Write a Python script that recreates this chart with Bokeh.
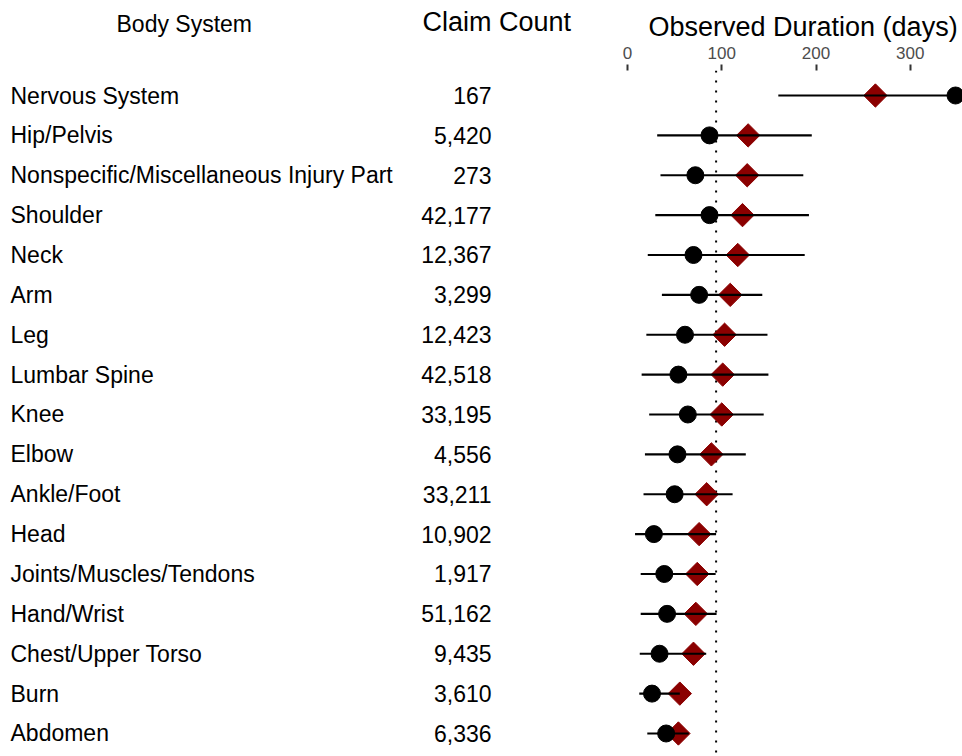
import math
from bokeh.plotting import figure
from bokeh.layouts import row
from bokeh.models import Range1d, FixedTicker, Span, Title, ColumnDataSource
from bokeh.core.properties import value
from bokeh.embed import file_html
from bokeh.resources import INLINE

# ---- data ----
body_systems = ["Nervous System", "Hip/Pelvis", "Nonspecific/Miscellaneous Injury Part",
                "Shoulder", "Neck", "Arm", "Leg", "Lumbar Spine", "Knee", "Elbow",
                "Ankle/Foot", "Head", "Joints/Muscles/Tendons", "Hand/Wrist",
                "Chest/Upper Torso", "Burn", "Abdomen"]
claim_counts = [167, 5420, 273, 42177, 12367, 3299, 12423, 42518, 33195, 4556,
                33211, 10902, 1917, 51162, 9435, 3610, 6336]
median_days = [348, 87, 72, 87, 70, 76, 61, 54, 64, 53, 50, 28, 39, 42, 34, 26, 41]
mean_days = [263, 128, 127, 122, 117, 109, 103, 101, 100, 89, 84, 76, 74, 72.5, 70, 55.5, 54]
low_days = [160, 31.5, 35, 29.5, 21.5, 36.5, 20, 15, 23, 18.5, 17, 8, 14, 14, 13, 12.5, 21]
high_days = [420, 195.5, 186.5, 192.5, 188, 143, 148.5, 149.5, 144.5, 125.5, 111.5, 94,
             93.5, 94.5, 83.5, 55.5, 65]
reference_days = 94
x_ticks = [0, 100, 200, 300]

n = len(body_systems)
ypos = list(range(1, n + 1))
src = ColumnDataSource(dict(
    y=ypos, name=body_systems, count=[f"{c:,}" for c in claim_counts],
    med=median_days, mean=mean_days, lo=low_days, hi=high_days))

FONT = "Liberation Sans"
H = 756
TOP = 70
y_rng = lambda: Range1d(n + 0.577, 1 - 0.627)


def base_fig(width, xr, title_text, title_size, title_offset, title_standoff):
    p = figure(width=width, height=H, x_range=xr, y_range=y_rng(),
               x_axis_location="above", y_axis_location=None,
               output_backend="svg", toolbar_location=None,
               min_border_top=TOP, min_border_bottom=0,
               min_border_left=0, min_border_right=0)
    p.outline_line_color = None
    p.xgrid.grid_line_color = None
    p.ygrid.grid_line_color = None
    p.background_fill_color = "white"
    p.border_fill_color = "white"
    ax = p.xaxis[0]
    ax.axis_line_color = None
    ax.minor_tick_line_color = None
    ax.major_tick_out = 6
    ax.major_tick_in = 0
    ax.major_tick_line_width = 2
    ax.major_tick_line_color = "#333333"
    ax.major_label_standoff = 6
    ax.major_label_text_font = FONT
    ax.major_label_text_font_size = "17px"
    ax.major_label_text_color = "#4d4d4d"
    p.title = Title(text=title_text, align="left", offset=title_offset,
                    text_font=FONT, text_font_size=title_size,
                    text_font_style="normal", text_color="black",
                    standoff=title_standoff)
    return p


def blank_axis(p):
    # same footprint as the duration axis, but with nothing visible
    p.xaxis.ticker = FixedTicker(ticks=[100])
    p.xaxis.major_label_overrides = {100: " "}
    p.xaxis.major_tick_line_alpha = 0


# names column
p1 = base_fig(400, Range1d(-10, 390), "Body System", "23px", 116, 0)
blank_axis(p1)
p1.text(x=0, y="y", text="name", source=src, text_font=value(FONT),
        text_font_size="23px", text_baseline="middle", text_align="left",
        text_color="black")

# count column
p2 = base_fig(200, Range1d(0, 200), "Claim Count", "27px", 22, 0)
blank_axis(p2)
p2.text(x=91, y="y", text="count", source=src, text_font=value(FONT),
        text_font_size="23px", text_baseline="middle", text_align="right",
        text_color="black")

# forest plot
p3 = base_fig(362, Range1d(-28.64, 355.4), "Observed Duration (days)", "27px", 48, 3)
p3.xaxis.ticker = FixedTicker(ticks=x_ticks)
p3.add_layout(Span(location=reference_days, dimension="height", line_color="black",
                   line_width=2, line_dash="2 8", level="underlay"))
p3.scatter(x="mean", y="y", source=src, marker="square", angle=math.pi / 4,
           size=16.5, fill_color="#8B0000", line_color="#8B0000")
p3.segment(x0="lo", x1="hi", y0="y", y1="y", source=src, line_width=2.2,
           line_color="black")
p3.scatter(x="med", y="y", source=src, marker="circle", size=17,
           fill_color="black", line_color="black")

layout = row(p1, p2, p3, spacing=0)
open("out.html", "w").write(file_html(layout, INLINE))
